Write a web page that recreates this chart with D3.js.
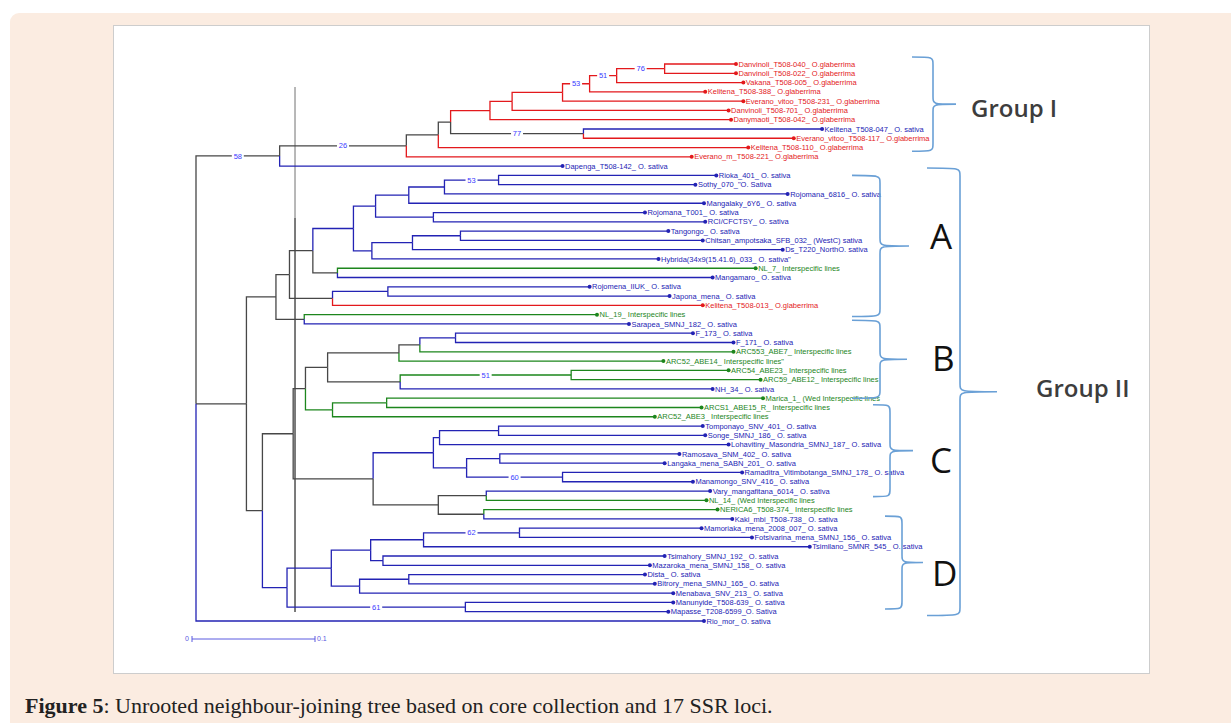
<!DOCTYPE html>
<html><head><meta charset="utf-8">
<script src="https://cdn.jsdelivr.net/npm/d3@7"></script>
<style>body{margin:0;background:#fff;}svg{display:block;}</style>
</head><body>
<svg id="c" width="1231" height="723"></svg>
<script>
// ---------- DATA ----------
const leafNames = [
 "Danvinoli_T508-040_ O.glaberrima","Danvinoli_T508-022_ O.glaberrima","Vakana_T508-005_ O.glaberrima",
 "Kelitena_T508-388_ O.glaberrima","Everano_vitoo_T508-231_ O.glaberrima","Danvinoli_T508-701_ O.glaberrima",
 "Danymaoti_T508-042_ O.glaberrima","Kelitena_T508-047_ O. sativa","Everano_vitoo_T508-117_ O.glaberrima",
 "Kelitena_T508-110_ O.glaberrima","Everano_m_T508-221_ O.glaberrima","Dapenga_T508-142_ O. sativa",
 "Rioka_401_ O. sativa","Sothy_070_\"O. Sativa","Rojomana_6816_ O. sativa","Mangalaky_6Y6_ O. sativa",
 "Rojomana_T001_ O. sativa","RCI/CFCTSY_ O. sativa","Tangongo_ O. sativa",
 "Chitsan_ampotsaka_SFB_032_ (WestC) sativa","Ds_T220_NorthO. sativa","Hybrida(34x9(15.41.6)_033_ O. sativa\"",
 "NL_7_ Interspecific lines","Mangamaro_ O. sativa","Rojomena_IIUK_ O. sativa","Japona_mena_ O. sativa",
 "Kelitena_T508-013_ O.glaberrima","NL_19_ Interspecific lines","Sarapea_SMNJ_182_ O. sativa",
 "F_173_ O. sativa","F_171_ O. sativa","ARC553_ABE7_ Interspecific lines","ARC52_ABE14_ Interspecific lines\"",
 "ARC54_ABE23_ Interspecific lines","ARC59_ABE12_ Interspecific lines","NH_34_ O. sativa",
 "Marica_1_ (Wed Interspecific lines","ARCS1_ABE15_R_ Interspecific lines","ARC52_ABE3_ Interspecific lines",
 "Tomponayo_SNV_401_ O. sativa","Songe_SMNJ_186_ O. sativa","Lohavitiny_Masondria_SMNJ_187_ O. sativa",
 "Ramosava_SNM_402_ O. sativa","Langaka_mena_SABN_201_ O. sativa","Ramaditra_Vitimbotanga_SMNJ_178_ O. sativa",
 "Manamongo_SNV_416_ O. sativa","Vary_mangafitana_6014_ O. sativa","NL_14_ (Wed Interspecific lines",
 "NERICA6_T508-374_ Interspecific lines","Kaki_mbi_T508-738_ O. sativa","Mamoriaka_mena_2008_007_ O. sativa",
 "Fotsivarina_mena_SMNJ_156_ O. sativa","Tsimilano_SMNR_545_ O. sativa","Tsimahory_SMNJ_192_ O. sativa",
 "Mazaroka_mena_SMNJ_158_ O. sativa","Dista_ O. sativa","Bitrory_mena_SMNJ_165_ O. sativa",
 "Menabava_SNV_213_ O. sativa","Manunyide_T508-639_ O. sativa","Mapasse_T208-6599_O. Sativa","Rio_mor_ O. sativa"
];
// g = O. glaberrima, s = O. sativa, i = interspecific lines
const leafSpecies = [
 "g","g","g","g","g","g","g","s","g","g","g","s",
 "s","s","s","s","s","s","s","s","s","s","i","s","s","s","g","i","s",
 "s","s","i","i","i","i","s","i","i","i",
 "s","s","s","s","s","s","s","s","i","i",
 "s","s","s","s","s","s","s","s","s","s","s","s"
];
const leafParents = [
 "N11","N11","N10","N9","N8","N7","N5","N6","N6","N3","N2","N1",
 "A7","A7","A6","A5","A8","A8","A11","A11","A10","A9","A13","A13","A15","A15","A14","A17","A17",
 "B4","B4","B3","B2","B6","B6","B5","B8","B8","B7",
 "C3","C3","C2","C5","C5","C5b","C5b","C7","C7","C8","C8",
 "D4","D4","D3","D5","D5","D7","D7","D6","D8","D8","R"
];
const leafDist = [
 0.439,0.439,0.445,0.414,0.445,0.433,0.435,0.509,0.486,0.449,0.403,0.298,
 0.423,0.406,0.481,0.413,0.365,0.414,0.384,0.412,0.477,0.376,0.455,0.420,0.320,0.385,0.412,0.326,0.352,
 0.404,0.437,0.437,0.380,0.433,0.459,0.420,0.461,0.411,0.373,
 0.412,0.414,0.433,0.393,0.381,0.444,0.404,0.418,0.415,0.424,0.436,
 0.411,0.452,0.499,0.381,0.369,0.365,0.373,0.388,0.388,0.384,0.413
];
const nodeIds = ["R","N1","N2","N3","N4","N5","N6","N7","N8","N9","N10","N11",
 "G","A0","A1","A2","A3","A4","A5","A6","A7","A8","A9","A10","A11","A13","A14","A15","A17",
 "CD","BC","B0","B1","B2","B3","B4","B5","B6","B7","B8",
 "C0","C1","C2","C3","C4","C5","C5b","C6","C7","C8",
 "D0","D1","D2","D3","D4","D5","D6","D7","D8"];
const nodeParents = [null,"R","N1","N2","N3","N4","N4","N5","N7","N8","N9","N10",
 "R","G","A0","A1","A2","A3","A4","A5","A6","A4","A3","A9","A10","A2","A1","A14","A0",
 "G","CD","BC","B0","B1","B2","B3","B1","B5","B0","B7",
 "BC","C0","C1","C2","C1","C4","C4","C0","C6","C6",
 "CD","D0","D1","D2","D3","D2","D1","D6","D0"];
const nodeDist = [0,0.068,0.171,0.197,0.207,0.239,0.315,0.257,0.298,0.320,0.342,0.381,
 0.041,0.065,0.076,0.095,0.128,0.146,0.173,0.202,0.246,0.193,0.143,0.176,0.215,0.115,0.111,0.156,0.088,
 0.054,0.079,0.089,0.107,0.165,0.182,0.211,0.166,0.305,0.111,0.155,
 0.144,0.193,0.198,0.246,0.220,0.247,0.298,0.197,0.236,0.234,
 0.074,0.110,0.142,0.185,0.263,0.152,0.133,0.173,0.219];
const bootstrapNodes  = ["N11","N10","N9","N6","N2","N1","A7","B6","C5b","D4","D8"];
const bootstrapValues = [76,51,53,77,26,58,53,51,60,62,61];
const groupNames = ["Group I","Group II"];
const subgroupNames = ["A","B","C","D"];
const scaleBarValue = 0.1;
const captionBold = "Figure 5";
const captionText = ": Unrooted neighbour-joining tree based on core collection and 17 SSR loci.";

// ---------- STYLE ----------
const speciesColor = {g:"#e3191c", s:"#2323b4", i:"#1d861d"};
const mixedColor = "#474747";
const braceColor = "#6aa0d6";

const svg = d3.select("#c");
svg.append("rect").attr("width",1231).attr("height",723).attr("fill","#fff");
svg.append("rect").attr("x",10).attr("y",13).attr("width",1240).attr("height",730).attr("rx",9).attr("fill","#fbece1");
svg.append("rect").attr("x",113.5).attr("y",25.5).attr("width",1036).attr("height",648)
  .attr("fill","#fff").attr("stroke","#cdcdcd");

const x = d3.scaleLinear().domain([0,0.5]).range([196,196+0.5*1230]);
const y = d3.scaleLinear().domain([0,leafNames.length-1]).range([64,621]);

// build hierarchy
const table = nodeIds.map((id,i)=>({id, parentId:nodeParents[i], dist:nodeDist[i]}))
  .concat(leafNames.map((n,i)=>({id:"L"+i, parentId:leafParents[i], dist:leafDist[i], leaf:i})));
const root = d3.stratify().id(d=>d.id).parentId(d=>d.parentId)(table);
root.eachAfter(n=>{
  n.px = x(n.data.dist);
  if(!n.children){ n.py = y(n.data.leaf); n.sp = new Set([leafSpecies[n.data.leaf]]); }
  else {
    const ys = n.children.map(c=>c.py).sort((a,b)=>a-b);
    n.py = ys.length%2 ? ys[(ys.length-1)/2] : (ys[0]+ys[ys.length-1])/2;
    n.sp = new Set(); n.children.forEach(c=>c.sp.forEach(s=>n.sp.add(s)));
  }
});
const edgeColor = n => n.sp.size===1 ? speciesColor[[...n.sp][0]] : mixedColor;

// stray vertical guide line visible in the original figure
const gx = x(0.0805);
svg.append("line").attr("x1",gx).attr("x2",gx).attr("y1",87).attr("y2",612).attr("stroke","#9a9a9a").attr("stroke-width",1.4);
svg.append("line").attr("x1",gx).attr("x2",gx).attr("y1",218).attr("y2",612).attr("stroke","#4a4a4a").attr("stroke-width",1.1);

const g = svg.append("g");
g.selectAll("path.edge").data(root.descendants().filter(n=>n.parent)).join("path")
  .attr("class","edge").attr("fill","none")
  .attr("stroke",edgeColor).attr("stroke-width",1.3)
  .attr("d",n=>`M${n.parent.px},${n.parent.py}V${n.py}H${n.px}`);

const leaves = root.leaves();
g.selectAll("circle.tip").data(leaves).join("circle")
  .attr("cx",n=>n.px).attr("cy",n=>n.py).attr("r",2)
  .attr("fill",n=>speciesColor[leafSpecies[n.data.leaf]]);
g.selectAll("text.tip").data(leaves).join("text")
  .attr("x",n=>n.px+2.5).attr("y",n=>n.py).attr("dy","0.35em")
  .attr("font-family","Liberation Sans, Arial, sans-serif").attr("font-size",7.5)
  .attr("fill",n=>speciesColor[leafSpecies[n.data.leaf]])
  .text(n=>leafNames[n.data.leaf]);

// bootstrap values
const byId = new Map(root.descendants().map(n=>[n.id,n]));
bootstrapNodes.forEach((id,i)=>{
  const n = byId.get(id);
  const mx = (n.parent.px+n.px)/2;
  g.append("rect").attr("x",mx-6).attr("y",n.py-4).attr("width",12).attr("height",8).attr("fill","#fff");
  g.append("text").attr("x",mx).attr("y",n.py).attr("dy","0.35em").attr("text-anchor","middle")
    .attr("font-family","Liberation Sans, Arial, sans-serif").attr("font-size",7.5).attr("fill","#3b3bff")
    .text(bootstrapValues[i]);
});

// scale bar
const sb0 = x(0)-4, sb1 = sb0 + (x(scaleBarValue)-x(0)), sby = 639;
svg.append("line").attr("x1",sb0).attr("x2",sb1).attr("y1",sby).attr("y2",sby).attr("stroke","#5a5ae0").attr("stroke-width",1);
[sb0,sb1].forEach(v=>svg.append("line").attr("x1",v).attr("x2",v).attr("y1",sby-3).attr("y2",sby+3).attr("stroke","#5a5ae0"));
svg.append("text").attr("x",sb0-3).attr("y",sby).attr("dy","0.35em").attr("text-anchor","end")
  .attr("font-family","Liberation Sans, Arial, sans-serif").attr("font-size",7).attr("fill","#5a5ae0").text("0");
svg.append("text").attr("x",sb1+2).attr("y",sby).attr("dy","0.35em")
  .attr("font-family","Liberation Sans, Arial, sans-serif").attr("font-size",7).attr("fill","#5a5ae0").text(scaleBarValue);

// braces
function brace(xEnd, xSpine, xTip, y1, y2){
  const ym=(y1+y2)/2, r=Math.min(8,(y2-y1)/6);
  return `M${xEnd},${y1}C${xSpine},${y1} ${xSpine},${y1} ${xSpine},${y1+r}`+
         `L${xSpine},${ym-r}C${xSpine},${ym} ${xSpine},${ym} ${xTip},${ym}`+
         `C${xSpine},${ym} ${xSpine},${ym} ${xSpine},${ym+r}`+
         `L${xSpine},${y2-r}C${xSpine},${y2} ${xSpine},${y2} ${xEnd},${y2}`;
}
const braceLayout = [
  [912,933,956,y(-0.75),y(9.4)],
  [927,960,997,y(11.2),y(59.4)],
  [852,880,909,y(12),y(27.2)],
  [852,880,907,y(27.6),y(36)],
  [873,890,913,y(36.7),y(46.6)],
  [885,902,923,y(48.7),y(58.7)]
];
braceLayout.forEach(b=>svg.append("path").attr("d",brace(...b)).attr("fill","none")
  .attr("stroke",braceColor).attr("stroke-width",1.6));

const groupPos = [[971,117],[1036,397]];
groupNames.forEach((t,i)=>svg.append("text").attr("x",groupPos[i][0]).attr("y",groupPos[i][1])
  .attr("font-family","Open Sans, sans-serif").attr("font-weight",600).attr("font-size",24)
  .attr("fill","#3d3d3d").text(t));
const subPos = [[930,249],[932,371],[930,473],[932,586]];
subgroupNames.forEach((t,i)=>svg.append("text").attr("x",subPos[i][0]).attr("y",subPos[i][1])
  .attr("font-family","Open Sans, sans-serif").attr("font-size",35).attr("fill","#111").text(t));

// caption
const cap = svg.append("text").attr("x",25).attr("y",713)
  .attr("font-family","Liberation Serif, serif").attr("font-size",22).attr("fill","#222");
cap.append("tspan").attr("font-weight","bold").text(captionBold);
cap.append("tspan").text(captionText);
</script>
</body></html>
